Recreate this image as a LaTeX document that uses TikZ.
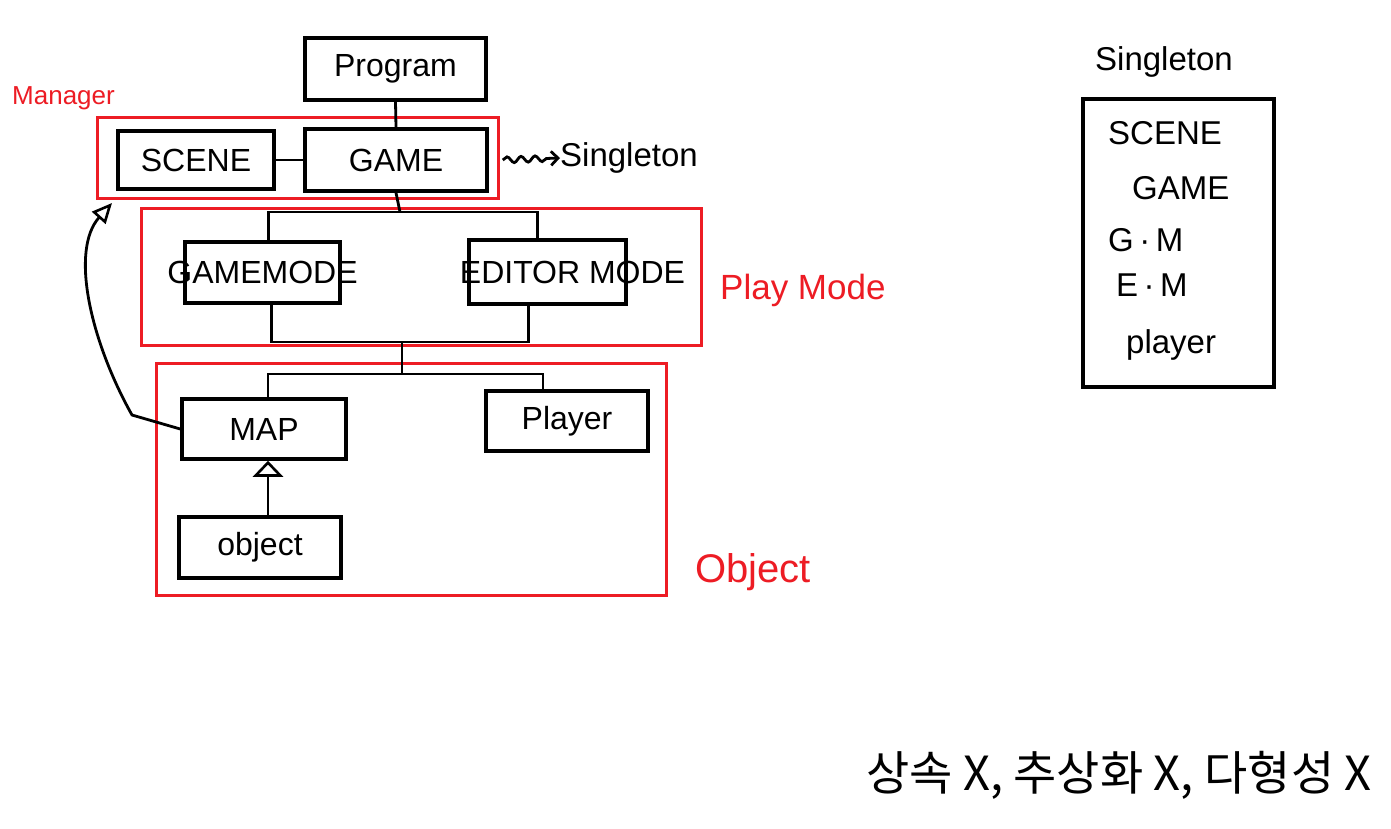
\documentclass[tikz,border=0pt]{standalone}
\usepackage{fontspec}
\setmainfont{Liberation Sans}
\newfontfamily\kr{Noto Sans CJK KR}
\usetikzlibrary{arrows.meta,decorations.pathmorphing,calc}
\definecolor{pred}{HTML}{ED1C24}
\begin{document}
\begin{tikzpicture}[x=1pt,y=-1pt,
  box/.style={draw, line width=3.5pt, inner sep=0pt, font=\fontsize{32}{33}\selectfont},
  grp/.style={draw=pred, line width=3pt, inner sep=0pt},
  conn/.style={line width=2.8pt},
  redlbl/.style={text=pred, inner sep=0pt},
  txt/.style={inner sep=0pt, font=\fontsize{33}{34}\selectfont}]
\useasboundingbox[fill=white] (0,0) rectangle (1391,828);
% red groups
\node[grp, minimum width=401pt, minimum height=81pt] (manager) at (297.5,157.5) {};
\node[grp, minimum width=560pt, minimum height=137pt] (playmode) at (421,276.5) {};
\node[grp, minimum width=510pt, minimum height=232pt] (objgrp) at (411,479) {};
% boxes
\node[box, minimum width=181pt, minimum height=62pt] (program) at (395.5,69) {Program};
\node[box, minimum width=156pt, minimum height=58pt] (scene) at (196,160) {SCENE};
\node[box, minimum width=182pt, minimum height=62pt] (game) at (396,160) {GAME};
\node[box, minimum width=155pt, minimum height=61pt] (gamemode) at (262.5,272.5) {\makebox[0pt]{GAMEMODE}};
\node[box, minimum width=157pt, minimum height=64pt] (editor) at (547.5,272) {\makebox[0pt]{\hspace*{50pt}EDITOR MODE}};
\node[box, minimum width=164pt, minimum height=60pt] (map) at (264,429) {MAP};
\node[box, minimum width=162pt, minimum height=60pt] (player) at (567,421) {Player};
\node[box, minimum width=162pt, minimum height=61pt] (object) at (260,547.5) {object};
% labels
\node[redlbl, font=\fontsize{26}{26}\selectfont, anchor=west] (mgrlbl) at (12,98) {Manager};
\node[redlbl, font=\fontsize{35}{35}\selectfont, anchor=west] (pmlbl) at (720,290) {Play Mode};
\node[redlbl, font=\fontsize{40}{40}\selectfont, anchor=west] (objlbl) at (695,572) {Object};
\node[txt, anchor=west] (singlbl) at (560,158) {Singleton};
% connectors
\draw[conn] (program.south) -- (game.north);
\draw[conn] (scene.east) -- (game.west);
\coordinate (j1) at (400,212);
\draw[conn] (game.south) -- (j1);
\draw[conn] ($(gamemode.north)+(6,0)$) |- (j1) -| ($(editor.north)+(-10,0)$);
\coordinate (j2) at (402,342);
\draw[conn] ($(gamemode.south)+(9,0)$) |- (j2) -| ($(editor.south)+(-19,0)$);
\coordinate (j3) at (402,374);
\draw[conn] (j2) -- (j3);
\draw[conn] ($(map.north)+(4,0)$) |- (j3) -| ($(player.north)+(-24,0)$);
\draw[conn, -{Triangle[open, length=16pt, width=30pt, line width=2.6pt]}] ($(map.south |- object.north)+(4,0)$) -- ($(map.south)+(4,0)$);
\coordinate (mgrtip) at (112,203);
\coordinate (bend) at (132,415);
\draw[conn, -{Triangle[open, length=20pt, width=18pt, line width=2.6pt]}] (map.west) -- (bend) .. controls (90,340) and (70,250) .. (mgrtip);
\draw[conn, -{Straight Barb[length=7pt]}, decorate, decoration={snake, amplitude=3pt, segment length=14pt, post length=7pt}] (game.east) ++(14,0) -- (singlbl.west);
% singleton list
\node[txt, anchor=south] (stitle) at (1164,78) {Singleton};
\node[draw, line width=3.5pt, minimum width=191pt, minimum height=288pt] (slist) at (1178.5,243) {};
\node[txt, anchor=west] (s1) at (1108,133) {SCENE};
\node[txt, anchor=west] (s2) at (1132,188) {GAME};
\node[txt, anchor=west] (s3) at (1108,240) {G\,·\,M};
\node[txt, anchor=west] (s4) at (1116,285) {E\,·\,M};
\node[txt, anchor=west] (s5) at (1126,345) {player};
% korean note
\node[inner sep=0pt, anchor=west, font=\kr\fontsize{47}{49}\selectfont] (note) at (866,775) {상속 X, 추상화 X, 다형성 X};
\end{tikzpicture}
\end{document}
